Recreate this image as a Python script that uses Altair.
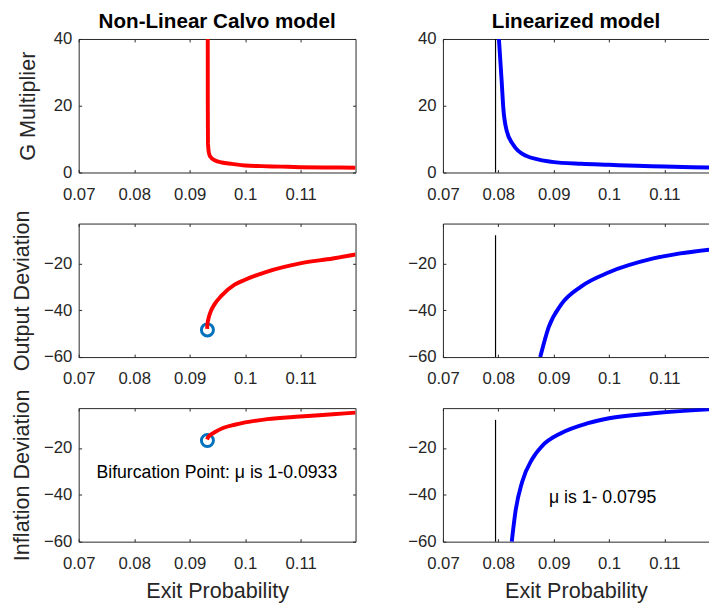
import altair as alt
import pandas as pd

FONT = "Liberation Sans"
AXC = "#262626"
RED = "#ff0000"
BLUE = "#0000ff"
MARK = "#0072bd"

# ---------------- data ----------------
x_ticks = [0.07, 0.08, 0.09, 0.10, 0.11]
g_ticks = [0, 20, 40]
dev_ticks = [-60, -40, -20]

# Non-linear Calvo model
nl_g_x = [0.09326, 0.09327, 0.09330, 0.09345, 0.09370, 0.09460, 0.09580, 0.09760, 0.1000, 0.1030, 0.1065, 0.1100, 0.1150, 0.1199]
nl_g_y = [40.0, 20.0, 8.8, 6.0, 4.8, 3.6, 3.0, 2.6, 2.1, 1.9, 1.75, 1.6, 1.5, 1.45]

nl_out_x = [0.09315, 0.09320, 0.09340, 0.09380, 0.09450, 0.09570, 0.09810, 0.1000, 0.1040, 0.1099, 0.1158, 0.1199]
nl_out_y = [-48.0, -46.0, -43.5, -40.5, -37.4, -33.9, -29.1, -27.0, -23.5, -20.0, -17.9, -16.2]

nl_inf_x = [0.09315, 0.09330, 0.09370, 0.09450, 0.09600, 0.09810, 0.1000, 0.1040, 0.1099, 0.1158, 0.1199]
nl_inf_y = [-16.4, -15.5, -14.5, -13.3, -11.5, -10.1, -9.1, -7.7, -6.6, -5.6, -4.9]

bif_x = [0.0932]
bif_out_y = [-48.4]
bif_inf_y = [-16.8]

# Linearized model
lin_g_x = [0.08011, 0.0806, 0.0809, 0.0815, 0.0827, 0.0850, 0.0897, 0.0950, 0.1000, 0.1050, 0.1100, 0.1150, 0.1182]
lin_g_y = [40.0, 27.5, 19.4, 12.6, 8.3, 5.0, 3.2, 2.6, 2.3, 2.0, 1.8, 1.6, 1.5]

lin_out_x = [0.08757, 0.0891, 0.0914, 0.0950, 0.1000, 0.1080, 0.1182]
lin_out_y = [-60.0, -47.2, -37.4, -29.8, -23.8, -17.9, -14.1]

lin_inf_x = [0.08243, 0.0831, 0.0843, 0.0861, 0.0879, 0.0914, 0.0962, 0.1000, 0.1080, 0.1182]
lin_inf_y = [-60.0, -47.1, -34.5, -24.8, -19.2, -13.6, -9.4, -7.3, -5.2, -3.5]

mu_lin = 0.0795
rule_g = [0, 40]
rule_dev = [-60, -8]

ann_left = "Bifurcation Point: μ is 1-0.0933"
ann_left_pos = [0.07320, -30.6]
ann_right = "μ is 1- 0.0795"
ann_right_pos = [0.08915, -41.4]

# ---------------- layout ----------------
XL = [0.07, 0.1199]
XR = [0.07, 0.11805]
Y_G = [0, 40]
Y_D = [-60, -3]
WL, WR, H = 282, 271, 136


def df(xs, ys):
    return pd.DataFrame({"x": xs, "y": ys})


def enc(chart, xs, ys):
    return chart.encode(
        x=alt.X("x:Q", scale=xs, axis=None),
        y=alt.Y("y:Q", scale=ys, axis=None),
    )


def panel(layers_fn, xdom, ydom, yvals, W, ytitle=None, xtitle=None, title=None,
          right_border=True, ytitle_pad=10):
    xs = alt.Scale(domain=xdom, nice=False, zero=False)
    ys = alt.Scale(domain=ydom, nice=False, zero=False)
    dummy = df([xdom[0]], [ydom[0]])

    def ax_layer(xaxis, yaxis):
        return alt.Chart(dummy).mark_point(opacity=0).encode(
            x=alt.X("x:Q", scale=xs, axis=xaxis),
            y=alt.Y("y:Q", scale=ys, axis=yaxis),
        )

    main_axes = ax_layer(
        alt.Axis(orient="bottom", values=x_ticks, format=".2~f", ticks=False, labels=True,
                 labelFlush=False, domain=True, labelPadding=14, title=xtitle, titlePadding=10),
        alt.Axis(orient="left", values=yvals, ticks=False, labels=True, labelFlush=False, domain=True,
                 labelPadding=7, title=ytitle, titlePadding=ytitle_pad),
    )
    inward_bl = ax_layer(
        alt.Axis(orient="top", offset=-H, values=x_ticks, labels=False, domain=False, ticks=True, title=None),
        alt.Axis(orient="right", offset=-W, values=yvals, labels=False, domain=False, ticks=True, title=None),
    )
    if right_border:
        yax = alt.Axis(orient="left", offset=-W, values=yvals, labels=False, domain=True, ticks=True, title=None)
    else:
        yax = None
    top_right = ax_layer(
        alt.Axis(orient="bottom", offset=-H, values=x_ticks, labels=False, domain=True, ticks=True, title=None),
        yax,
    )
    layers = layers_fn(xs, ys) + [main_axes, inward_bl, top_right]
    ch = alt.layer(*layers).resolve_axis(x="independent", y="independent").properties(width=W, height=H)
    if title is not None:
        ch = ch.properties(title=alt.TitleParams(title, font=FONT, fontSize=21, fontWeight="bold",
                                                 color="black", anchor="middle", frame="group",
                                                 baseline="alphabetic", offset=-19))
    return ch


def line(xs_, ys_, color):
    def f(xs, ys):
        return enc(alt.Chart(df(xs_, ys_)).mark_line(color=color, strokeWidth=4, clip=True,
                                                     interpolate="monotone"), xs, ys)
    return f


def nl_layers(cx, cy, bx, by):
    def f(xs, ys):
        ring = enc(alt.Chart(df(bx, by)).mark_point(shape="circle", filled=False, color=MARK,
                                                    size=150, strokeWidth=3, opacity=1), xs, ys)
        ln = line(cx, cy, RED)(xs, ys)
        return [ring, ln]
    return f


def text_layer(txt, pos):
    def f(xs, ys):
        return alt.Chart(pd.DataFrame({"x": [pos[0]], "y": [pos[1]], "t": [txt]})).mark_text(
            align="left", baseline="middle", font=FONT, fontSize=18, color="black").encode(
            x=alt.X("x:Q", scale=xs, axis=None),
            y=alt.Y("y:Q", scale=ys, axis=None),
            text="t:N",
        )
    return f


def lin_layers(cx, cy, ry, ann=None, annpos=None):
    def f(xs, ys):
        rule = alt.Chart(pd.DataFrame({"x": [mu_lin], "y": [ry[0]], "y2": [ry[1]]})).mark_rule(
            color="black", strokeWidth=1.2).encode(
            x=alt.X("x:Q", scale=xs, axis=None),
            y=alt.Y("y:Q", scale=ys, axis=None),
            y2="y2:Q",
        )
        out = [rule, line(cx, cy, BLUE)(xs, ys)]
        if ann is not None:
            out.append(text_layer(ann, annpos)(xs, ys))
        return out
    return f


def nl_inf_layers(xs, ys):
    return nl_layers(nl_inf_x, nl_inf_y, bif_x, bif_inf_y)(xs, ys) + [text_layer(ann_left, ann_left_pos)(xs, ys)]


p11 = panel(lambda xs, ys: [line(nl_g_x, nl_g_y, RED)(xs, ys)], XL, Y_G, g_ticks, WL,
            ytitle="G Multiplier", title="Non-Linear Calvo model", ytitle_pad=14)
p21 = panel(nl_layers(nl_out_x, nl_out_y, bif_x, bif_out_y), XL, Y_D, dev_ticks, WL,
            ytitle="Output  Deviation")
p31 = panel(nl_inf_layers, XL, Y_D, dev_ticks, WL,
            ytitle="Inflation  Deviation", xtitle="Exit Probability")

p12 = panel(lin_layers(lin_g_x, lin_g_y, rule_g), XR, Y_G, g_ticks, WR,
            title="Linearized model", right_border=False)
p22 = panel(lin_layers(lin_out_x, lin_out_y, rule_dev), XR, Y_D, dev_ticks, WR, right_border=False)
p32 = panel(lin_layers(lin_inf_x, lin_inf_y, rule_dev, ann_right, ann_right_pos), XR, Y_D, dev_ticks, WR,
            xtitle="Exit Probability", right_border=False)

chart = alt.concat(
    p11, p12, p21, p22, p31, p32,
    columns=2, spacing={"row": 52, "column": 89}, bounds="flush", align="each",
).properties(
    padding={"left": 3, "right": 0, "top": -2, "bottom": 0},
    background="white",
).configure_view(stroke=None).configure_axis(
    grid=False,
    labelFont=FONT, labelFontSize=17, labelColor=AXC,
    titleFont=FONT, titleFontSize=22, titleFontWeight="normal", titleColor=AXC,
    domainColor=AXC, domainWidth=1, tickColor=AXC, tickSize=3, tickWidth=1,
)

chart.save("out.html", embed_options={"renderer": "svg", "actions": False})
